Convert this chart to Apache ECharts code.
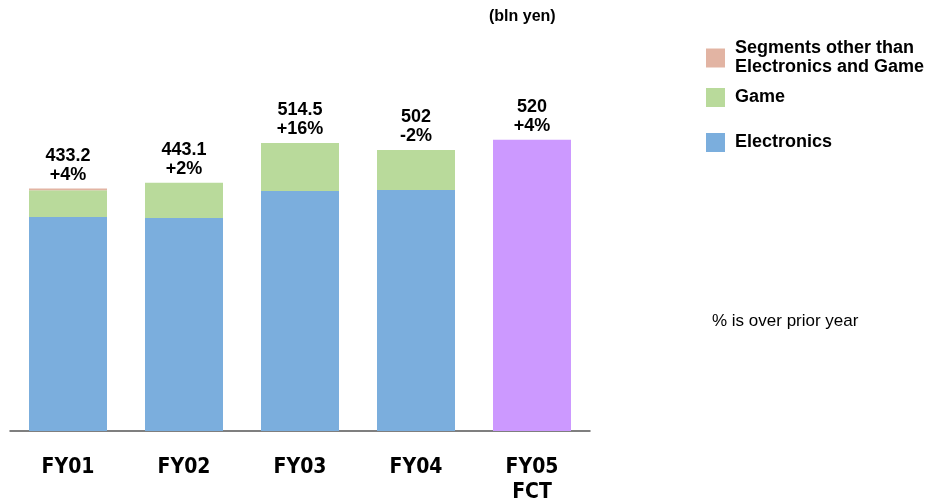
<!DOCTYPE html>
<html>
<head>
<meta charset="utf-8">
<script src="https://cdn.jsdelivr.net/npm/echarts@6/dist/echarts.min.js"></script>
<style>
  html, body { margin: 0; padding: 0; background: #fff; }
  #chart { width: 934px; height: 499px; }
</style>
</head>
<body>
<div id="chart"></div>
<script>
const categories = ["FY01", "FY02", "FY03", "FY04", "FY05\nFCT"];
const electronics = [382, 380.4, 428.6, 430.4, null];
const game = [48, 62.7, 85.9, 71.6, null];
const otherSegments = [3.2, 0, 0, 0, null];
const forecast = [null, null, null, null, 520];
const totals = [433.2, 443.1, 514.5, 502, 520];
const growth = ["+4%", "+2%", "+16%", "-2%", "+4%"];

const FONT = "Liberation Sans, Arial, sans-serif";
const chart = echarts.init(document.getElementById("chart"));

const legendBase = {
  orient: "vertical",
  left: 701,
  itemWidth: 19,
  itemHeight: 19,
  icon: "rect",
  selectedMode: false,
  textStyle: { fontFamily: FONT, fontWeight: "bold", fontSize: 18, color: "#000", lineHeight: 19, padding: [2, 0, 0, 5] }
};

chart.setOption({
  animation: false,
  grid: { left: 10, right: 344, top: 39, bottom: 68, outerBoundsMode: "none" },
  legend: [
    Object.assign({}, legendBase, { top: 33, data: ["Segments other than\nElectronics and Game"] }),
    Object.assign({}, legendBase, { top: 82, data: ["Game"] }),
    Object.assign({}, legendBase, { top: 127, data: ["Electronics"] })
  ],
  xAxis: {
    type: "category",
    data: categories,
    axisLine: { lineStyle: { color: "#555", width: 1.5 } },
    axisTick: { show: false },
    axisLabel: {
      fontFamily: "Liberation Sans Narrow, DejaVu Sans Condensed, Arial, sans-serif",
      fontWeight: "bold",
      fontSize: 21,
      lineHeight: 25,
      color: "#000",
      margin: 24
    }
  },
  yAxis: { type: "value", min: 0, max: 700, show: false },
  graphic: [
    { type: "text", left: 489, top: 9, style: { text: "(bln yen)", font: "bold 16px " + FONT, fill: "#000" } },
    { type: "text", left: 712, top: 313, style: { text: "% is over prior year", font: "17px " + FONT, fill: "#000" } }
  ],
  series: [
    { name: "Electronics", type: "bar", stack: "s", barWidth: 78, data: electronics, itemStyle: { color: "#7baedd" } },
    { name: "Game", type: "bar", stack: "s", data: game, itemStyle: { color: "#b9da9b" } },
    { name: "Segments other than\nElectronics and Game", type: "bar", stack: "s", data: otherSegments, itemStyle: { color: "#e2b4a3" } },
    { name: "Forecast", type: "bar", stack: "s", data: forecast, itemStyle: { color: "#cc99ff" } },
    {
      name: "Total", type: "bar", stack: "s",
      data: totals.map(() => 0),
      itemStyle: { color: "transparent" },
      label: {
        show: true,
        position: "top",
        distance: 4,
        formatter: p => totals[p.dataIndex] + "\n" + growth[p.dataIndex],
        fontFamily: FONT,
        fontWeight: "bold",
        fontSize: 18,
        lineHeight: 19,
        color: "#000"
      }
    }
  ]
});
</script>
</body>
</html>
